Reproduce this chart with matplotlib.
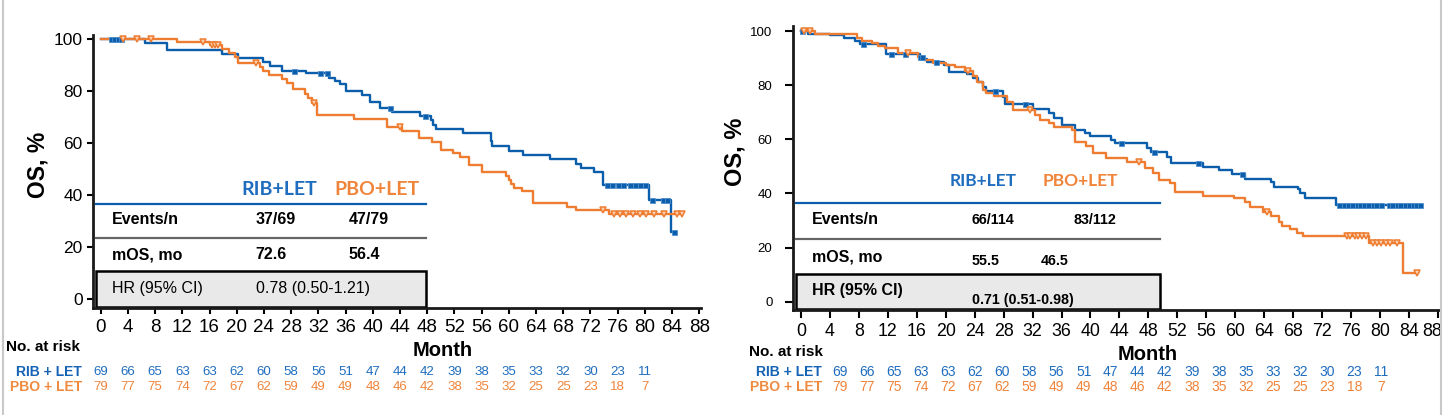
import matplotlib
matplotlib.use("Agg")
import matplotlib.pyplot as plt
import matplotlib.transforms as mtransforms
from matplotlib.patches import Rectangle
from matplotlib.lines import Line2D
from matplotlib import font_manager
import numpy as np

plt.rcParams['font.family'] = ['Liberation Sans', 'DejaVu Sans']


def has_font(name):
    try:
        font_manager.findfont(font_manager.FontProperties(family=name), fallback_to_default=False)
        return True
    except ValueError:
        return False


NARROW = 'Liberation Sans Narrow' if has_font('Liberation Sans Narrow') else 'Liberation Sans'
HEAD = 'Lato' if has_font('Lato') else 'Liberation Sans'

BLUE = '#0B5EAB'
ORANGE = '#EE7D31'
BLUE_TXT = '#1F6DBE'
ORANGE_TXT = '#F0843A'

# ---- left panel data (OS, %, step curves) ----
rib_l_t = [0, 6.5, 9.7, 17.9, 20.2, 23.9, 24.9, 26.6, 30.2, 33.5, 34.5, 35.2, 36.0, 38.4, 39.6,
           41.1, 42.9, 46.9, 48.5, 48.8, 49.3, 53.2, 57.4, 57.6, 60.0, 62.1, 66.1, 69.9, 70.6,
           72.5, 73.8, 73.9, 80.6, 83.9]
rib_l_s = [100, 98.7, 95.9, 94.2, 92.7, 91.2, 89.7, 87.8, 86.9, 85.2, 83.9, 82.6, 80.0, 78.4, 75.8,
           73.6, 71.9, 70.4, 68.9, 66.8, 65.5, 63.7, 60.7, 58.8, 56.9, 55.3, 53.7, 52.0, 50.3,
           48.8, 47.2, 43.8, 38.1, 25.7]
rib_l_end = 84.3
rib_l_cens = [1.5, 2.0, 2.5, 3.0, 28.4, 32.3, 33.2, 42.6, 47.7, 74.4, 75.2, 76.0, 76.8, 77.8, 78.5,
              79.3, 80.0, 81.1, 82.6, 83.2, 84.3]

pbo_l_t = [0, 11.2, 16.1, 17.9, 18.8, 19.8, 20.2, 23.4, 23.9, 24.7, 26.6, 27.4, 28.3, 30.1, 30.5,
           31.0, 31.8, 37.3, 42.1, 44.3, 46.8, 48.7, 50.0, 51.8, 52.8, 54.2, 56.1, 59.6, 60.0,
           60.3, 60.8, 61.9, 63.6, 68.5, 69.9, 74.8]
pbo_l_s = [100, 99.0, 97.7, 96.4, 94.9, 93.3, 90.9, 89.5, 87.8, 86.2, 84.8, 83.3, 80.7, 79.1, 77.2,
           75.5, 70.7, 69.4, 66.0, 64.8, 62.0, 60.4, 57.5, 56.0, 54.6, 51.5, 48.8, 47.2, 45.6,
           44.0, 42.6, 41.4, 36.9, 35.2, 34.1, 32.7]
pbo_l_end = 85.4
pbo_l_cens = [3.3, 5.3, 7.4, 15.0, 16.3, 16.8, 17.2, 22.8, 31.3, 44.0, 73.8, 75.4, 76.3, 77.3, 78.3,
              79.3, 80.2, 81.3, 82.8, 84.7, 85.4]

# ---- right panel data ----
rib_r_t = [0, 1.0, 4.0, 5.9, 7.5, 8.1, 11.7, 16.4, 16.9, 17.4, 19.7, 20.4, 22.9, 23.8, 24.5, 25.2,
           25.6, 27.9, 28.2, 32.1, 34.2, 34.9, 36.1, 37.8, 39.2, 39.9, 42.9, 43.4, 47.8, 48.4,
           50.6, 51.1, 55.5, 57.7, 59.6, 61.4, 65.0, 65.3, 68.7, 69.0, 69.6, 73.9]
rib_r_s = [100, 99.0, 98.4, 97.4, 96.5, 95.2, 91.4, 90.6, 89.6, 88.5, 87.5, 84.8, 84.2, 82.6, 81.3,
           79.5, 77.7, 75.6, 73.0, 71.2, 69.6, 67.8, 65.3, 63.5, 62.2, 61.3, 59.8, 58.8, 56.9,
           55.5, 53.6, 51.4, 49.7, 48.5, 47.2, 45.2, 44.4, 42.5, 41.5, 40.1, 38.2, 35.7]
rib_r_end = 85.6
rib_r_cens = [0.2, 8.5, 12.4, 14.4, 16.5, 16.7, 18.7, 26.8, 30.9, 44.2, 48.8, 54.9, 60.9,
              74.4, 75.0, 75.6, 76.2, 76.8, 77.3, 77.8, 78.4, 79.0, 79.5, 80.1, 81.2, 81.7, 82.3,
              82.8, 83.4, 84.0, 84.5, 85.0, 85.5]

pbo_r_t = [0, 1.9, 7.7, 8.4, 9.8, 10.7, 11.6, 13.4, 16.2, 17.0, 18.3, 20.1, 21.3, 22.6, 23.8, 24.3,
           25.2, 25.6, 26.6, 28.4, 29.3, 32.3, 33.0, 34.2, 34.9, 37.4, 37.8, 39.4, 40.4, 42.2,
           45.0, 47.5, 48.7, 49.4, 51.0, 51.7, 55.5, 59.8, 61.3, 62.1, 63.9, 64.9, 66.0, 66.4,
           67.6, 68.5, 69.4, 78.5, 83.2]
pbo_r_s = [100, 98.8, 97.6, 96.5, 95.5, 94.6, 93.7, 92.1, 90.6, 89.4, 88.4, 87.5, 86.6, 85.4, 83.4,
           81.3, 78.3, 77.0, 76.0, 73.9, 70.9, 69.0, 67.2, 65.9, 64.7, 63.5, 59.2, 57.4, 54.9,
           53.0, 51.8, 49.3, 47.5, 45.0, 43.8, 40.7, 39.2, 38.2, 36.7, 35.1, 33.3, 31.5, 29.6,
           28.0, 26.8, 25.5, 24.1, 21.6, 10.5]
pbo_r_end = 85.3
pbo_r_cens = [0.4, 1.3, 14.8, 23.1, 31.7, 46.7, 64.4, 75.4, 75.9, 76.5, 77.0, 77.5, 78.1,
              79.0, 79.6, 80.2, 80.8, 81.4, 82.3, 85.1]

# ---- numbers at risk (same rows printed under both panels) ----
risk_months = list(range(0, 81, 4))
rib_risk = [69, 66, 65, 63, 63, 62, 60, 58, 56, 51, 47, 44, 42, 39, 38, 35, 33, 32, 30, 23, 11]
pbo_risk = [79, 77, 75, 74, 72, 67, 62, 59, 49, 49, 48, 46, 42, 38, 35, 32, 25, 25, 23, 18, 7]

# ---- summary tables ----
left_table = [('Events/n', '37/69', '47/79'), ('mOS, mo', '72.6', '56.4')]
left_hr = ('HR (95% CI)', '0.78 (0.50-1.21)')
right_table = [('Events/n', '66/114', '83/112'), ('mOS, mo', '55.5', '46.5')]
right_hr = ('HR (95% CI)', '0.71 (0.51-0.98)')

W, H = 1443, 415
fig = plt.figure(figsize=(W / 100, H / 100), dpi=100)


def px(x, y):
    return x / W, 1 - y / H


def draw_arm(ax, t, s, t_end, cens, color, marker):
    tt = list(t) + [t_end]
    ss = list(s) + [s[-1]]
    ax.step(tt, ss, where='post', color=color, lw=1.7, zorder=3, clip_on=False)
    idx = np.searchsorted(t, cens, side='right') - 1
    cy = np.array(s)[idx]
    if marker == 's':
        ax.plot(cens, cy, 's', color=color, ms=3.6, mew=0.6, mec='#4F8FCC', zorder=4, clip_on=False)
    else:
        ax.plot(cens, cy, 'v', mfc='#FBD3B4', mec=color, ms=5, mew=1.1, zorder=4, clip_on=False)


def setup_axes(rect, xlim, ylim, ytick_size, ytick_len, ytick_pad, xtick_len, xtick_pad, xsize):
    ax = fig.add_axes(rect)
    ax.set_xlim(*xlim)
    ax.set_ylim(*ylim)
    for side in ('top', 'right'):
        ax.spines[side].set_visible(False)
    for side in ('left', 'bottom'):
        ax.spines[side].set_linewidth(2)
        ax.spines[side].set_color('#1a1a1a')
    ax.set_xticks(range(0, 89, 4))
    ax.set_yticks(range(0, 101, 20))
    ax.tick_params(axis='y', length=ytick_len, width=1.5, labelsize=ytick_size, pad=ytick_pad)
    ax.tick_params(axis='x', length=xtick_len, width=1.5, labelsize=xsize, pad=xtick_pad)
    for lab in ax.get_xticklabels():
        lab.set_fontfamily([NARROW, 'DejaVu Sans'])
    return ax


def draw_table(ax, rows, hr, x0, x1, head_y, head_x, head_size, line_y, gray_y, row_y,
               val_pos, box, hr_y, hr_val_y, hr_weight, txt_x, txt_size, val_size):
    ax.text(head_x[0], head_y, 'RIB+LET', color=BLUE_TXT, fontsize=head_size, fontweight='bold',
            family=[HEAD, 'DejaVu Sans'], ha='center', va='center')
    ax.text(head_x[1], head_y, 'PBO+LET', color=ORANGE_TXT, fontsize=head_size, fontweight='bold',
            family=[HEAD, 'DejaVu Sans'], ha='center', va='center')
    ax.plot([x0, x1], [line_y, line_y], color=BLUE, lw=1.6, clip_on=False)
    ax.plot([x0, x1], [gray_y, gray_y], color='#666666', lw=1.6, clip_on=False)
    for (lab, a, b), ry, (xa, xb, vy) in zip(rows, row_y, val_pos):
        ax.text(txt_x, ry, lab, fontsize=txt_size, fontweight='bold', va='center')
        ax.text(xa, vy, a, fontsize=val_size, fontweight='bold', va='center')
        ax.text(xb, vy, b, fontsize=val_size, fontweight='bold', va='center')
    ax.add_patch(Rectangle((x0, box[0]), x1 - x0, box[1] - box[0], fc='#E9E9E9', ec='black',
                           lw=1.8, zorder=2, clip_on=False))
    ax.text(txt_x, hr_y, hr[0], fontsize=txt_size, fontweight=hr_weight, va='center', zorder=5)
    ax.text(val_pos[0][0], hr_val_y, hr[1], fontsize=val_size, fontweight=hr_weight,
            va='center', zorder=5)


def draw_risk(ax, xs, size, lab_x, no_xy, month_xy):
    tr = mtransforms.blended_transform_factory(ax.transData, fig.transFigure)
    for x, a, b in zip(xs, rib_risk, pbo_risk):
        ax.text(x, px(0, 371.7)[1], str(a), transform=tr, color=BLUE_TXT, fontsize=size,
                ha='center', va='center')
        ax.text(x, px(0, 386.7)[1], str(b), transform=tr, color=ORANGE_TXT, fontsize=size,
                ha='center', va='center')
    fig.text(*px(lab_x, 371.7), 'RIB + LET', color='#1563B5', fontsize=10, fontweight='bold',
             ha='right', va='center')
    fig.text(*px(lab_x, 386.7), 'PBO + LET', color='#F08A3F', fontsize=10, fontweight='bold',
             ha='right', va='center')
    fig.text(*px(*no_xy), 'No. at risk', fontsize=11, fontweight='bold', ha='left', va='center')
    ax.text(month_xy[0], px(0, month_xy[1])[1], 'Month', transform=tr, fontsize=14.5,
            fontweight='bold', ha='center', va='center')


# ---------------- left panel ----------------
axl = setup_axes([93 / W, 1 - 307.7 / H, 607.6 / W, 272.7 / H], (-1.13, 88.2), (-3.55, 101.7),
                 12.5, 4.5, 3, 4.2, 4, 13.5)
draw_arm(axl, rib_l_t, rib_l_s, rib_l_end, rib_l_cens, BLUE, 's')
draw_arm(axl, pbo_l_t, pbo_l_s, pbo_l_end, pbo_l_cens, ORANGE, 'v')
draw_table(axl, left_table, left_hr, -0.7, 47.9, 41.9, (26.2, 40.6), 14, 36.6, 23.2,
           (30.3, 16.8), [(22.8, 36.4, 30.3), (22.8, 36.4, 16.8)], (-3.2, 10.6), 3.9, 3.9,
           'normal', 1.6, 11.5, 11.5)
draw_risk(axl, risk_months, 9.5, 81.7, (6, 346.7), (50.3, 350))
fig.text(*px(37.5, 165), 'OS, %', fontsize=16.5, fontweight='bold', rotation=90,
         ha='center', va='center')

# ---------------- right panel ----------------
axr = setup_axes([792.7 / W, 1 - 310 / H, 647.3 / W, 284 / H], (-1.15, 88.3), (-3.07, 101.9),
                 9.5, 5.5, 9, 6, 3, 12.8)
draw_arm(axr, rib_r_t, rib_r_s, rib_r_end, rib_r_cens, BLUE, 's')
draw_arm(axr, pbo_r_t, pbo_r_s, pbo_r_end, pbo_r_cens, ORANGE, 'v')
draw_table(axr, right_table, right_hr, -0.7, 49.6, 44.7, (25.1, 38.6), 12.5, 36.4, 23.2,
           (30.2, 16.6), [(23.6, 37.7, 30.2), (23.6, 33.1, 15.0)], (-2.7, 10.1), 4.3, 0.6,
           'bold', 1.5, 11.5, 10.3)
right_risk_x = np.linspace(5.4, 80.2, len(rib_risk))
draw_risk(axr, right_risk_x, 10, 821.7, (749.3, 351.7), (47.9, 354.3))
fig.text(*px(735, 151.5), 'OS, %', fontsize=17, fontweight='bold', rotation=90,
         ha='center', va='center')

# last tick label on the right sits a little left of its tick, as in the picture
last = axr.get_xticklabels()[-1]
last.set_transform(last.get_transform() + mtransforms.ScaledTranslation(-0.06, 0, fig.dpi_scale_trans))

# light frame lines at the figure edges
for xe in (2.5, 1441):
    fig.add_artist(Line2D([xe / W, xe / W], [0, 1], transform=fig.transFigure,
                          color='#C9C9C9', lw=1.5))

fig.savefig('out.png', dpi=100)
